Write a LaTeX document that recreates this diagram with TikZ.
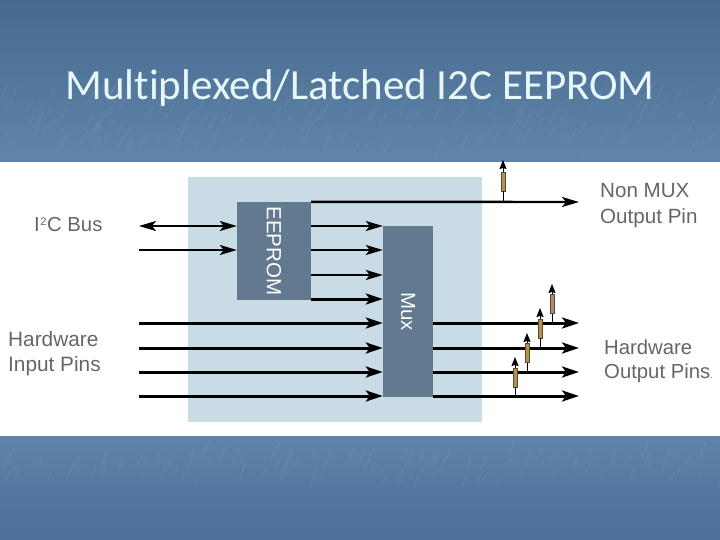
\documentclass[tikz,border=0pt]{standalone}
\usepackage{fontspec}
\setmainfont{Liberation Sans}
\newfontfamily\titlefont[Ligatures=NoCommon]{Carlito}
\usetikzlibrary{arrows.meta}
\definecolor{slide}{HTML}{4B7099}
\definecolor{slidetop}{HTML}{46698F}
\definecolor{slidelight}{HTML}{6184A9}
\definecolor{panel}{HTML}{C9DBE4}
\definecolor{chip}{HTML}{62798F}
\definecolor{labelgray}{HTML}{666666}
\definecolor{titlepale}{HTML}{E6F8FA}
\definecolor{resbrown}{HTML}{B8923C}
\definecolor{resgray}{HTML}{A8906E}
\tikzset{
    pin/.style={draw=black, line width=3pt, -{Stealth[length=17pt,width=11pt,inset=4pt]}},
    toppin/.style={draw=black, line width=2.4pt, -{Stealth[length=17pt,width=10pt,inset=4pt]}},
    thinpin/.style={draw=black, line width=2pt, -{Stealth[length=17pt,width=10pt,inset=4pt]}},
    tap/.style={draw=black, line width=1pt},
    tapend/.style={draw=black, line width=1pt, -{Stealth[length=9pt,width=7pt,inset=1pt]}},
    chipbox/.style={fill=chip, text=white, inner sep=0pt, font=\fontsize{20.5}{20.5}\selectfont},
    res/.style={draw=black!70, line width=0.4pt, fill=resbrown, minimum width=4.5pt, minimum height=19pt, inner sep=0pt},
    pinlabel/.style={text=labelgray, anchor=west, align=left, inner sep=0pt, font=\fontsize{20.3}{24.5}\selectfont},
    streak/.style={white, opacity=0.05, line width=1pt}
}
\begin{document}
\begin{tikzpicture}[x=1pt,y=-1pt]
    \useasboundingbox (0,0) rectangle (720,540);
    % slide background
    \shade[top color=slidetop, bottom color=slidelight] (0,0) rectangle (720,162);
    \shade[top color=slidelight, bottom color=slide, middle color=slide!60!slidelight] (0,436) rectangle (720,540);
    \pgfmathsetseed{7}
    \foreach \i in {1,...,220} {
        \pgfmathsetmacro{\sx}{rnd*720}
        \pgfmathsetmacro{\sy}{90+rnd*66}
        \pgfmathsetmacro{\sl}{5+rnd*12}
        \draw[streak] (\sx,\sy) -- ++(\sl*0.6,-\sl);
    }
    \foreach \i in {1,...,130} {
        \pgfmathsetmacro{\sx}{rnd*720}
        \pgfmathsetmacro{\sy}{456+rnd*30}
        \pgfmathsetmacro{\sl}{5+rnd*12}
        \draw[streak] (\sx,\sy) -- ++(\sl*0.4,-\sl);
    }
    \fill[white] (0,162) rectangle (720,436);
    \node[text=titlepale, inner sep=0pt, anchor=base, font=\titlefont\fontsize{43}{43}\selectfont] (title) at (360,100) {Multiplexed/Latched I2C EEPROM};

    % blocks
    \node[fill=panel, minimum width=294pt, minimum height=245pt, inner sep=0pt] (board) at (335,299.5) {};
    \node[chipbox, minimum width=74pt, minimum height=98pt] (eeprom) at (274,251) {\rotatebox{-90}{EEPROM}};
    \node[chipbox, minimum width=50pt, minimum height=171pt] (mux) at (408,311.5) {\rotatebox{-90}{Mux}};

    % labels
    \node[pinlabel] (buslabel) at (34,224.5) {I\kern0.6pt\raisebox{6pt}{\fontsize{11}{11}\selectfont 2}\kern0.6pt C Bus};
    \node[pinlabel, font=\fontsize{20.8}{24.5}\selectfont] (inlabel) at (8,353.5) {Hardware\\Input Pins};
    \node[pinlabel, font=\fontsize{20.6}{26}\selectfont] (nonmuxlabel) at (600,205.5) {Non MUX\\Output Pin};
    \node[pinlabel] (outlabel) at (604,361.5) {Hardware\\Output Pins{\fontsize{9}{9}\selectfont.}};

    % free ends
    \coordinate (busa) at (139,226);
    \coordinate (busb) at (139,250);
    \coordinate (busain) at (eeprom.west |- busa);
    \coordinate (busbin) at (eeprom.west |- busb);
    \coordinate (tapout) at (579,202);
    \foreach \n/\y in {a/226,b/250,c/275,d/299} {
        \coordinate (rom\n) at (eeprom.east |- 0,\y);
        \coordinate (mux\n) at (mux.west |- 0,\y);
    }
    \foreach \n/\y in {1/323,2/348,3/372,4/396} {
        \coordinate (in\n) at (139,\y);
        \coordinate (muxin\n) at (mux.west |- 0,\y);
        \coordinate (muxout\n) at (mux.east |- 0,\y);
        \coordinate (out\n) at (579,\y);
    }

    % bus side
    \draw[thinpin, {Stealth[length=17pt,width=10pt,inset=4pt]}-{Stealth[length=17pt,width=10pt,inset=4pt]}] (busa) -- (busain);
    \draw[thinpin] (busb) -- (busbin);
    \draw[toppin] (eeprom.north east) -- (tapout);
    \foreach \n in {a,b,c} {
        \draw[thinpin] (rom\n) -- (mux\n);
    }
    \draw[pin] (romd) -- (muxd);
    % hardware pins
    \foreach \n in {1,2,3,4} {
        \draw[pin] (in\n) -- (muxin\n);
        \draw[pin] (muxout\n) -- (out\n);
    }

    % latches
    \node[res] (res0) at (503,181.5) {};
    \node[res, fill=resgray] (res1) at (552,304) {};
    \node[res] (res2) at (540,328.5) {};
    \node[res] (res3) at (527,353) {};
    \node[res] (res4) at (515,377.5) {};
    \coordinate (tip0) at (503,160);
    \coordinate (tip1) at (552,284);
    \coordinate (tip2) at (540,308);
    \coordinate (tip3) at (527,333);
    \coordinate (tip4) at (515,357);
    \draw[tap] (503,202) -- (res0);
    \draw[tap] (552,323) -- (res1);
    \draw[tap] (540,348) -- (res2);
    \draw[tap] (527,372) -- (res3);
    \draw[tap] (515,396) -- (res4);
    \draw[tapend] (res0) -- (tip0);
    \draw[tapend] (res1) -- (tip1);
    \draw[tapend] (res2) -- (tip2);
    \draw[tapend] (res3) -- (tip3);
    \draw[tapend] (res4) -- (tip4);
\end{tikzpicture}
\end{document}
